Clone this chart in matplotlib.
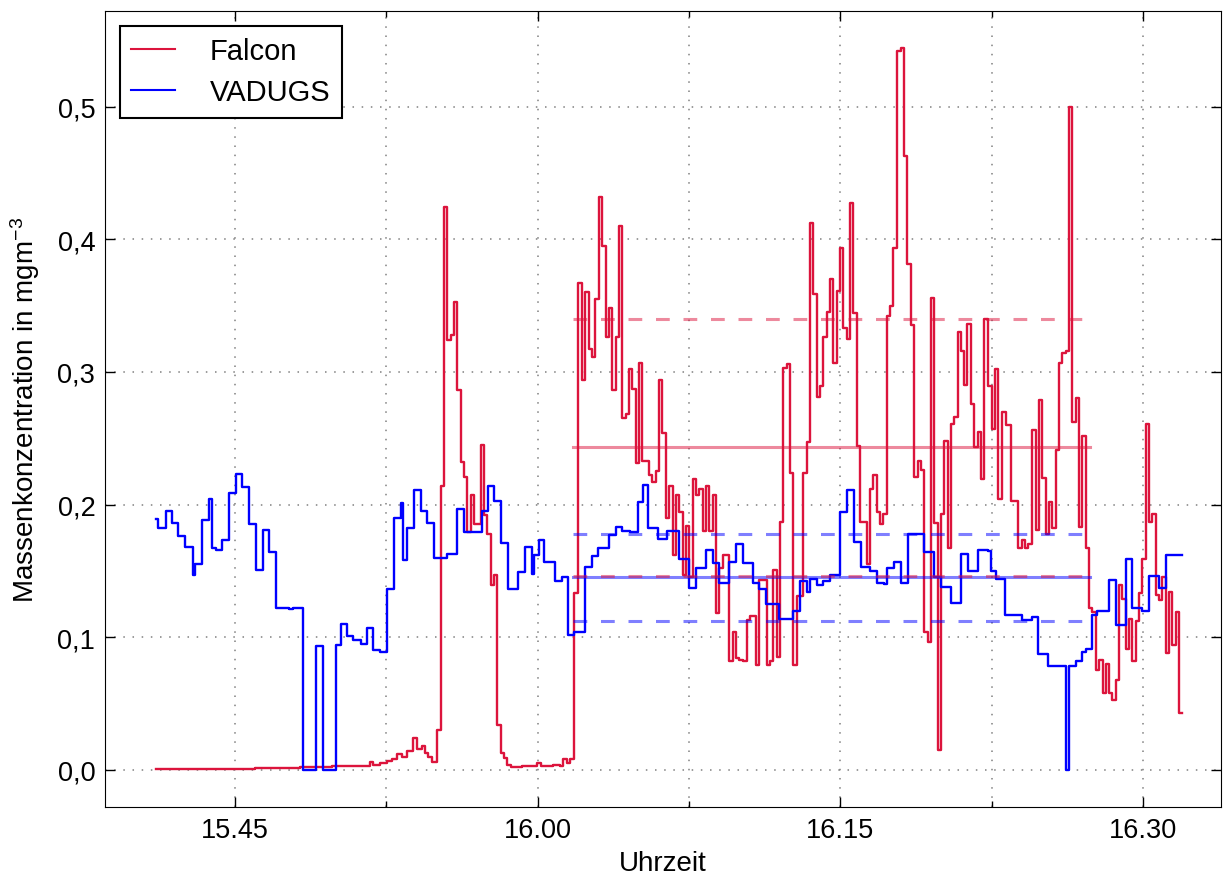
import matplotlib
matplotlib.use("Agg")
import matplotlib.pyplot as plt
import numpy as np

plt.rcParams["font.family"] = ["Liberation Sans", "DejaVu Sans"]
plt.rcParams["mathtext.fontset"] = "custom"
plt.rcParams["mathtext.rm"] = "Liberation Sans"
plt.rcParams["mathtext.it"] = "Liberation Sans:italic"

# Zeit in Minuten nach 15:00, Wert gilt ab diesem Zeitpunkt (Stufen)
falcon_t = [41.09, 46.00, 48.20, 49.80, 51.69, 51.85, 52.19, 52.53, 52.78, 53.03,
            53.28, 53.52, 53.84, 54.03, 54.25, 54.42, 54.58, 54.75, 55.00, 55.19,
            55.36, 55.52, 55.69, 55.85, 56.02, 56.18, 56.35, 56.51, 56.68, 56.84,
            57.18, 57.34, 57.50, 57.67, 57.83, 58.00, 58.17, 58.33, 58.49, 58.66,
            59.20, 59.97, 60.16, 60.76, 61.10, 61.25, 61.45, 61.60, 61.81, 62.01,
            62.18, 62.34, 62.54, 62.71, 62.84, 63.04, 63.20, 63.37, 63.53, 63.70,
            63.86, 64.03, 64.19, 64.36, 64.52, 64.69, 64.86, 65.02, 65.18, 65.52,
            65.68, 65.85, 66.01, 66.17, 66.34, 66.52, 66.69, 66.85, 67.02, 67.18,
            67.35, 67.51, 67.68, 67.84, 68.01, 68.18, 68.34, 68.50, 68.67, 68.84,
            69.00, 69.17, 69.49, 69.66, 69.83, 69.99, 70.16, 70.36, 70.52, 70.82,
            70.98, 71.35, 71.51, 71.67, 71.84, 72.01, 72.17, 72.34, 72.50, 72.67,
            72.83, 73.16, 73.33, 73.49, 73.66, 73.83, 73.99, 74.15, 74.32, 74.48,
            74.65, 74.82, 74.98, 75.14, 75.31, 75.48, 75.64, 75.81, 75.97, 76.30,
            76.47, 76.63, 76.80, 76.96, 77.13, 77.29, 77.46, 77.62, 77.82, 77.99,
            78.15, 78.32, 78.48, 78.66, 78.83, 78.99, 79.16, 79.33, 79.49, 79.65,
            79.82, 79.99, 80.15, 80.32, 80.48, 80.64, 80.81, 80.98, 81.13, 81.29,
            81.46, 81.64, 81.80, 81.97, 82.13, 82.33, 82.50, 82.66, 82.82, 82.99,
            83.19, 83.45, 83.79, 83.98, 84.15, 84.31, 84.49, 84.68, 84.84, 85.00,
            85.17, 85.34, 85.50, 85.67, 85.83, 86.00, 86.16, 86.33, 86.49, 86.66,
            86.82, 86.99, 87.16, 87.32, 87.48, 87.65, 87.81, 87.99, 88.16, 88.32,
            88.48, 88.66, 88.82, 88.97, 89.14, 89.30, 89.46, 89.63, 89.80, 89.96,
            90.13, 90.29, 90.46, 90.62, 90.79, 90.95, 91.12, 91.28, 91.45, 91.62,
            91.78]
falcon_c = [0.001, 0.0015, 0.002, 0.003, 0.006, 0.004, 0.005, 0.007, 0.008, 0.012,
            0.010, 0.014, 0.024, 0.016, 0.018, 0.013, 0.010, 0.006, 0.030, 0.214,
            0.424, 0.324, 0.328, 0.353, 0.286, 0.232, 0.221, 0.179, 0.207, 0.185,
            0.245, 0.192, 0.178, 0.139, 0.147, 0.034, 0.013, 0.009, 0.004, 0.002,
            0.003, 0.005, 0.003, 0.004, 0.003, 0.008, 0.005, 0.008, 0.133, 0.367,
            0.294, 0.360, 0.317, 0.311, 0.355, 0.432, 0.395, 0.326, 0.348, 0.286,
            0.326, 0.410, 0.265, 0.268, 0.302, 0.287, 0.231, 0.307, 0.233, 0.222,
            0.217, 0.225, 0.294, 0.254, 0.190, 0.214, 0.162, 0.207, 0.194, 0.147,
            0.184, 0.145, 0.219, 0.207, 0.212, 0.180, 0.214, 0.180, 0.207, 0.118,
            0.152, 0.162, 0.082, 0.104, 0.084, 0.083, 0.082, 0.113, 0.116, 0.079,
            0.143, 0.079, 0.082, 0.151, 0.085, 0.187, 0.303, 0.306, 0.224, 0.079,
            0.131, 0.224, 0.247, 0.412, 0.359, 0.281, 0.289, 0.326, 0.345, 0.370,
            0.307, 0.361, 0.393, 0.333, 0.325, 0.427, 0.344, 0.244, 0.187, 0.155,
            0.212, 0.222, 0.194, 0.185, 0.193, 0.342, 0.350, 0.393, 0.542, 0.544,
            0.463, 0.381, 0.335, 0.221, 0.233, 0.226, 0.104, 0.096, 0.356, 0.186,
            0.015, 0.193, 0.248, 0.167, 0.261, 0.266, 0.330, 0.316, 0.290, 0.336,
            0.276, 0.243, 0.255, 0.219, 0.340, 0.289, 0.257, 0.302, 0.204, 0.270,
            0.260, 0.203, 0.167, 0.173, 0.167, 0.170, 0.256, 0.181, 0.279, 0.220,
            0.178, 0.202, 0.182, 0.241, 0.307, 0.314, 0.316, 0.500, 0.262, 0.280,
            0.183, 0.252, 0.167, 0.122, 0.119, 0.075, 0.083, 0.058, 0.080, 0.058,
            0.053, 0.068, 0.139, 0.129, 0.091, 0.114, 0.082, 0.112, 0.133, 0.159,
            0.261, 0.187, 0.193, 0.132, 0.128, 0.145, 0.088, 0.134, 0.094, 0.119,
            0.043]
falcon_end = 91.91

vadugs_t = [41.09, 41.20, 41.58, 41.86, 42.19, 42.52, 42.90, 43.02, 43.38, 43.71,
            43.88, 44.06, 44.37, 44.70, 45.03, 45.36, 45.71, 46.04, 46.40, 46.70,
            47.03, 47.68, 47.86, 48.35, 49.01, 49.35, 50.00, 50.24, 50.54, 50.86,
            51.23, 51.53, 51.85, 52.19, 52.55, 52.88, 53.21, 53.34, 53.54, 53.87,
            54.20, 54.53, 54.86, 55.52, 56.02, 56.35, 57.23, 57.52, 57.85, 58.18,
            58.54, 59.04, 59.37, 59.70, 59.82, 60.04, 60.32, 60.86, 61.19, 61.52,
            61.81, 62.34, 62.68, 63.00, 63.55, 63.88, 64.16, 64.57, 64.99, 65.20,
            65.48, 65.98, 66.39, 67.02, 67.51, 67.84, 68.34, 68.67, 69.00, 69.49,
            69.83, 70.16, 70.65, 70.98, 71.33, 71.97, 72.67, 73.00, 73.33, 73.49,
            73.83, 74.15, 74.48, 74.98, 75.34, 75.67, 76.01, 76.47, 76.83, 77.16,
            77.32, 77.66, 77.99, 78.33, 79.16, 79.65, 79.99, 80.48, 80.98, 81.34,
            81.83, 82.33, 82.46, 82.70, 83.16, 83.98, 84.48, 84.81, 85.30, 86.16,
            86.33, 86.66, 86.99, 87.16, 87.48, 87.73, 88.31, 88.64, 89.14, 89.47,
            89.96, 90.29, 90.79, 91.12]
vadugs_c = [0.189, 0.182, 0.195, 0.186, 0.176, 0.168, 0.147, 0.155, 0.188, 0.204,
            0.167, 0.166, 0.173, 0.209, 0.223, 0.213, 0.185, 0.151, 0.181, 0.164,
            0.122, 0.121, 0.122, 0.000, 0.093, 0.000, 0.094, 0.110, 0.101, 0.098,
            0.095, 0.107, 0.090, 0.089, 0.136, 0.190, 0.201, 0.158, 0.182, 0.211,
            0.195, 0.186, 0.160, 0.163, 0.197, 0.179, 0.195, 0.214, 0.203, 0.171,
            0.136, 0.149, 0.168, 0.148, 0.162, 0.173, 0.157, 0.142, 0.145, 0.102,
            0.104, 0.153, 0.161, 0.167, 0.177, 0.183, 0.180, 0.179, 0.202, 0.215,
            0.182, 0.174, 0.180, 0.159, 0.137, 0.152, 0.166, 0.156, 0.141, 0.157,
            0.170, 0.156, 0.141, 0.136, 0.125, 0.114, 0.120, 0.142, 0.134, 0.144,
            0.139, 0.142, 0.147, 0.194, 0.211, 0.172, 0.153, 0.150, 0.141, 0.140,
            0.152, 0.157, 0.141, 0.178, 0.164, 0.145, 0.138, 0.126, 0.163, 0.150,
            0.166, 0.165, 0.150, 0.144, 0.117, 0.113, 0.115, 0.087, 0.078, 0.000,
            0.078, 0.082, 0.089, 0.091, 0.117, 0.120, 0.143, 0.109, 0.159, 0.122,
            0.120, 0.146, 0.137, 0.162]
vadugs_end = 91.94

# Vergleichszeitraum mit Mittelwert und Standardabweichung
window = [61.75, 87.38]
falcon_mean, falcon_std = 0.243, 0.097
vadugs_mean, vadugs_std = 0.145, 0.033

x_ticks = [45, 60, 75, 90]
x_labels = ["15.45", "16.00", "16.15", "16.30"]
x_minor = [52.5, 67.5, 82.5]
y_ticks = [0.0, 0.1, 0.2, 0.3, 0.4, 0.5]

red = "#dc143c"
blue = "#0000ff"

fig = plt.figure(figsize=(12.23, 8.79), dpi=100)
ax = fig.add_axes([0.0859, 0.0808, 0.9125, 0.9055])

ax.step(np.append(falcon_t, falcon_end), np.append(falcon_c, falcon_c[-1]),
        where="post", color=red, lw=1.7, label="Falcon", zorder=3)
ax.step(np.append(vadugs_t, vadugs_end), np.append(vadugs_c, vadugs_c[-1]),
        where="post", color=blue, lw=1.7, label="VADUGS", zorder=3)

for mean, std, col in [(vadugs_mean, vadugs_std, blue), (falcon_mean, falcon_std, red)]:
    ax.plot(window, [mean, mean], color=col, alpha=0.5, lw=2.2, zorder=4)
    for v in (mean - std, mean + std):
        ax.plot(window, [v, v], color=col, alpha=0.5, lw=2.2,
                dashes=(4.5, 4.5), zorder=4)

ax.set_xlim(38.56, 93.86)
ax.set_ylim(-0.028, 0.572)
ax.set_xticks(x_ticks)
ax.set_xticklabels(x_labels)
ax.set_xticks(x_minor, minor=True)
ax.set_yticks(y_ticks)
ax.set_yticklabels([f"{v:.1f}".replace(".", ",") for v in y_ticks])

grid_style = dict(ls=(0, (1, 5)), color="0.5", lw=1.1)
ax.grid(True, which="both", axis="x", **grid_style)
ax.grid(True, which="major", axis="y", **grid_style)
ax.tick_params(which="both", direction="in", top=True, right=True,
               labelsize=19.5, width=1)
ax.tick_params(which="major", length=7, pad=7)
ax.tick_params(which="minor", length=4)

ax.set_xlabel("Uhrzeit", fontsize=20, labelpad=5)
ax.set_ylabel(r"Massenkonzentration in mgm$^{-3}$", fontsize=20, labelpad=11)

leg = ax.legend(loc="upper left", fontsize=21, fancybox=False, framealpha=1,
                edgecolor="black", handlelength=1.5, handletextpad=1.2,
                borderpad=0.4, labelspacing=0.45, borderaxespad=0.5)
leg.get_frame().set_linewidth(1.5)
for line in leg.get_lines():
    line.set_linewidth(1.5)

fig.savefig("out.png", dpi=100)
